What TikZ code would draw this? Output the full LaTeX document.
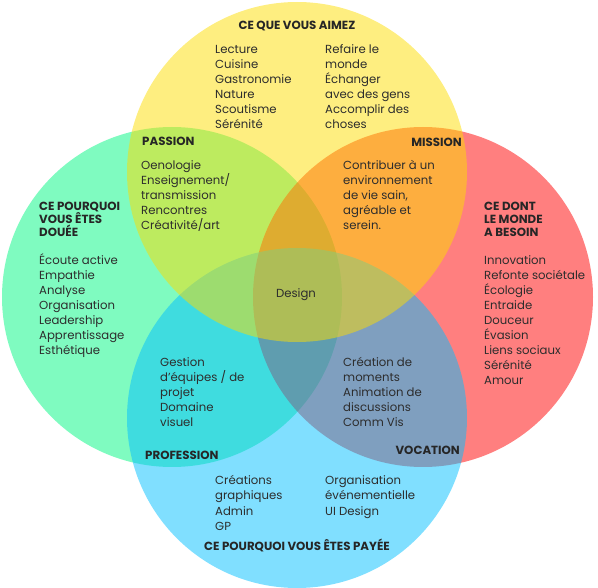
\documentclass[tikz,border=0pt]{standalone}
\usepackage{fontspec}
\setmainfont{Poppins}
\usetikzlibrary{calc}
\definecolor{gold}{RGB}{253,221,1}
\definecolor{mint}{RGB}{0,247,129}
\definecolor{coral}{RGB}{255,0,0}
\definecolor{sky}{RGB}{1,191,255}
\definecolor{ink}{RGB}{45,45,45}
\tikzset{
  zone/.style={fill=#1, fill opacity=0.5, draw=none},
  item/.style={anchor=base west, inner sep=0pt, font=\fontsize{11.7}{15}\selectfont, text=ink},
  head/.style={inner sep=0pt, font=\fontsize{11.8}{13}\selectfont\bfseries, text=black!85},
}
% list of lines: x, first baseline, name, items
\newcommand{\lst}[4]{%
  \foreach \t [count=\i from 0] in {#4}
    \node[item] (#3\i) at (#1,#2+15*\i) {\t};}

\begin{document}
\begin{tikzpicture}[x=1pt,y=-1pt]
  \useasboundingbox (0,0) rectangle (598,588);
  \def\r{170}
  \coordinate (cY) at (297,172);
  \coordinate (cG) at (172,297);
  \coordinate (cR) at (423,297);
  \coordinate (cB) at (297,418);
  \foreach \c/\col in {cG/mint,cR/coral,cB/sky,cY/gold}
    \fill[zone=\col] (\c) circle[radius=\r pt];

  \node[head] (aime) at (297,26) {CE QUE VOUS AIMEZ};
  \lst{215}{54}{aimeA}{Lecture,Cuisine,Gastronomie,Nature,Scoutisme,Sérénité}
  \lst{325}{54}{aimeB}{Refaire le,monde,Échanger,avec des gens,Accomplir des,choses}

  \node[head, anchor=base west] (passion) at (142,146) {PASSION};
  \lst{141}{170}{pas}{Oenologie,Enseignement/,transmission,Rencontres,Créativité/art}
  \node[head, anchor=base east] (mission) at (462,147) {MISSION};
  \lst{343}{170}{mis}{Contribuer à un,environnement,{de vie sain,},agréable et,serein.}

  \node[head, anchor=base west, align=left] (doue) at (39,237) {CE POURQUOI\\VOUS ÊTES\\DOUÉE};
  \lst{39}{265}{dou}{Écoute active,Empathie,Analyse,Organisation,Leadership,Apprentissage,Esthétique}
  \node[head, anchor=base west, align=left] (monde) at (484,237) {CE DONT\\LE MONDE\\A BESOIN};
  \lst{484}{265}{mon}{Innovation,Refonte sociétale,Écologie,Entraide,Douceur,Évasion,Liens sociaux,Sérénité,Amour}

  \node[item, anchor=center] (design) at (296,295) {Design};

  \lst{160}{367}{pro}{Gestion,d'équipes / de,projet,Domaine,visuel}
  \lst{343}{367}{voc}{Création de,moments,Animation de,discussions,Comm Vis}
  \node[head, anchor=base west] (profession) at (145,460) {PROFESSION};
  \node[head, anchor=base east] (vocation) at (460,455) {VOCATION};

  \lst{215}{485}{payA}{Créations,graphiques,Admin,GP}
  \lst{325}{485}{payB}{Organisation,événementielle,UI Design}
  \node[head, anchor=base] (paye) at (297,550) {CE POURQUOI VOUS ÊTES PAYÉE};
\end{tikzpicture}
\end{document}
